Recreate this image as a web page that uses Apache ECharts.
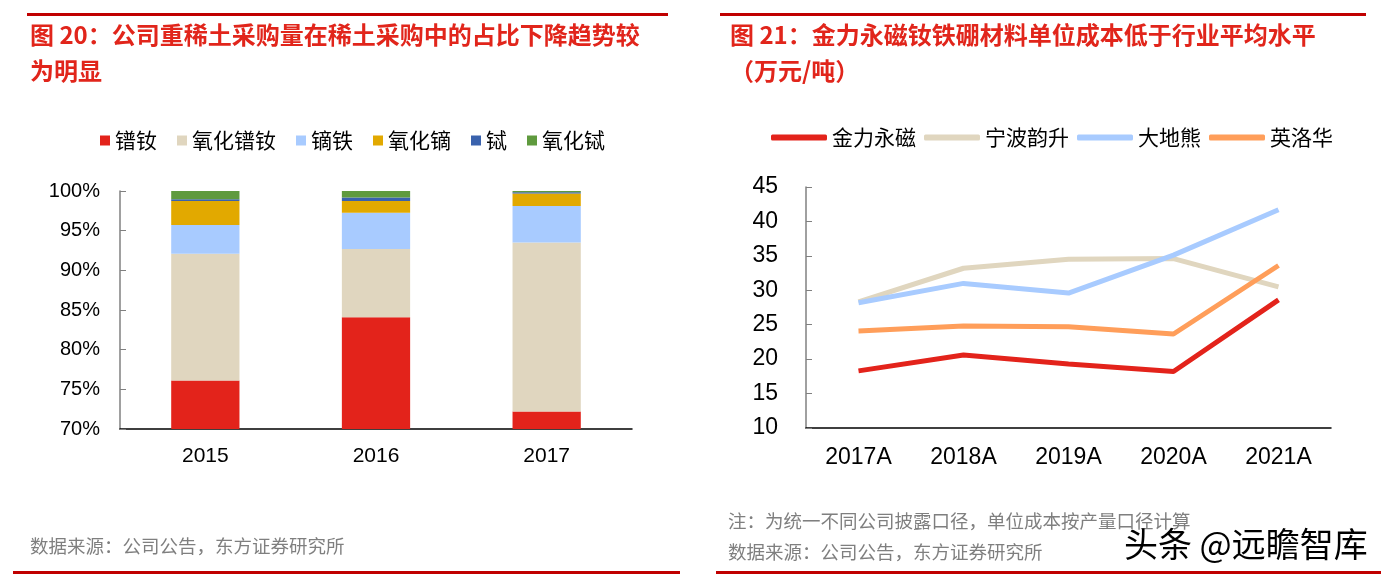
<!DOCTYPE html>
<html>
<head>
<meta charset="utf-8">
<script src="https://cdn.jsdelivr.net/npm/echarts@6/dist/echarts.min.js"></script>
<style>
html,body{margin:0;padding:0;background:#fff;}
#c{width:1397px;height:587px;}
</style>
</head>
<body>
<div id="c"></div>
<script>
// ---- Chart 1 data (share of purchases, %) ----
var barYears = ['2015', '2016', '2017'];
var barNames = ['镨钕', '氧化镨钕', '镝铁', '氧化镝', '铽', '氧化铽'];
var prNd     = [76.1, 84.1, 72.2];
var prNdOx   = [16.0, 8.6, 21.3];
var dyFe     = [3.6, 4.55, 4.6];
var dyOx     = [3.05, 1.5, 1.6];
var tb       = [0.2, 0.42, 0.15];
var tbOx     = [1.05, 0.83, 0.15];
var barColors = ['#e3231b', '#e0d6bf', '#a8cbff', '#e2a900', '#3a62ad', '#5f9a3e'];

// ---- Chart 2 data (unit cost, 万元/吨) ----
var lineYears = ['2017A', '2018A', '2019A', '2020A', '2021A'];
var lineNames = ['金力永磁', '宁波韵升', '大地熊', '英洛华'];
var jinli   = [18.3, 20.6, 19.3, 18.2, 28.6];
var ningbo  = [28.3, 33.2, 34.5, 34.6, 30.5];
var dadixiong = [28.2, 31.0, 29.6, 35.1, 41.7];
var yingluohua = [24.1, 24.8, 24.7, 23.65, 33.6];
var lineColors = ['#e3231b', '#e0d6bf', '#a8cbff', '#ff9e5a'];

var barData = [prNd, prNdOx, dyFe, dyOx, tb, tbOx];
var lineData = [jinli, ningbo, dadixiong, yingluohua];

var numFont = '"Liberation Sans", Arial, "Noto Sans CJK SC", sans-serif';
var cjkFont = '"Noto Sans CJK SC", "Liberation Sans", sans-serif';
var red = '#e1251b';

var series = [];
barNames.forEach(function (n, i) {
  series.push({
    name: n, type: 'bar', stack: 'share', xAxisIndex: 0, yAxisIndex: 0,
    barWidth: '40%', data: barData[i],
    itemStyle: { color: barColors[i] }
  });
});
lineNames.forEach(function (n, i) {
  series.push({
    name: n, type: 'line', xAxisIndex: 1, yAxisIndex: 1,
    data: lineData[i], showSymbol: false, symbol: 'none',
    lineStyle: { color: lineColors[i], width: 5 },
    itemStyle: { color: lineColors[i] }
  });
});

var chart = echarts.init(document.getElementById('c'), null, { renderer: 'canvas' });
chart.setOption({
  animation: false,
  backgroundColor: '#fff',
  grid: [
    { left: 120, right: 765, top: 191, bottom: 158 },
    { left: 806, right: 66, top: 187, bottom: 159 }
  ],
  legend: [
    {
      data: barNames, left: 95, top: 125, icon: 'rect',
      itemWidth: 10, itemHeight: 10, itemGap: 20,
      textStyle: { fontFamily: cjkFont, fontSize: 21, color: '#000' }
    },
    {
      data: lineNames, left: 766, top: 122, icon: 'roundRect',
      itemWidth: 56, itemHeight: 6, itemGap: 8,
      textStyle: { fontFamily: cjkFont, fontSize: 21, color: '#000' }
    }
  ],
  xAxis: [
    {
      type: 'category', gridIndex: 0, data: barYears,
      axisLine: { lineStyle: { color: '#000', width: 1.5 } },
      axisTick: { inside: true, length: 6, lineStyle: { color: '#000' } },
      axisLabel: { fontFamily: numFont, fontSize: 21, color: '#000', margin: 17 }
    },
    {
      type: 'category', gridIndex: 1, data: lineYears,
      axisLine: { lineStyle: { color: '#000', width: 1.5 } },
      axisTick: { inside: true, length: 7, lineStyle: { color: '#000' } },
      axisLabel: { fontFamily: numFont, fontSize: 23, color: '#000', margin: 18 }
    }
  ],
  yAxis: [
    {
      type: 'value', gridIndex: 0, min: 70, max: 100, interval: 5,
      axisLine: { show: true, lineStyle: { color: '#808080', width: 1.5 } },
      axisTick: { show: true, inside: true, length: 6, lineStyle: { color: '#808080' } },
      splitLine: { show: false },
      axisLabel: { fontFamily: numFont, fontSize: 20, color: '#000', margin: 20, formatter: '{value}%' }
    },
    {
      type: 'value', gridIndex: 1, min: 10, max: 45, interval: 5,
      axisLine: { show: true, lineStyle: { color: '#808080', width: 1.5 } },
      axisTick: { show: true, inside: true, length: 6, lineStyle: { color: '#808080' } },
      splitLine: { show: false },
      axisLabel: { fontFamily: numFont, fontSize: 23, color: '#000', margin: 28 }
    }
  ],
  series: series,
  graphic: [
    { type: 'rect', shape: { x: 27, y: 13, width: 641, height: 3 }, style: { fill: '#c00000' } },
    { type: 'rect', shape: { x: 720, y: 13, width: 646, height: 3 }, style: { fill: '#c00000' } },
    { type: 'rect', shape: { x: 13, y: 571, width: 667, height: 3 }, style: { fill: '#c00000' } },
    { type: 'rect', shape: { x: 716, y: 571, width: 665, height: 3 }, style: { fill: '#c00000' } },
    { type: 'text', left: 30, top: 23, style: { text: '图 20：公司重稀土采购量在稀土采购中的占比下降趋势较', fill: red, font: 'bold 24px ' + cjkFont } },
    { type: 'text', left: 30, top: 59, style: { text: '为明显', fill: red, font: 'bold 24px ' + cjkFont } },
    { type: 'text', left: 730, top: 23, style: { text: '图 21：金力永磁钕铁硼材料单位成本低于行业平均水平', fill: red, font: 'bold 24px ' + cjkFont } },
    { type: 'text', left: 730, top: 59, style: { text: '（万元/吨）', fill: red, font: 'bold 24px ' + cjkFont } },
    { type: 'text', left: 30, top: 537, style: { text: '数据来源：公司公告，东方证券研究所', fill: '#7f7f7f', font: '18.5px ' + cjkFont } },
    { type: 'text', left: 728, top: 512, style: { text: '注：为统一不同公司披露口径，单位成本按产量口径计算', fill: '#7f7f7f', font: '18.5px ' + cjkFont } },
    { type: 'text', left: 728, top: 543, style: { text: '数据来源：公司公告，东方证券研究所', fill: '#7f7f7f', font: '18.5px ' + cjkFont } },
    { type: 'text', left: 1124, top: 527, style: { text: '头条 @远瞻智库', fill: '#000', font: '34px ' + cjkFont } }
  ]
});
</script>
</body>
</html>
